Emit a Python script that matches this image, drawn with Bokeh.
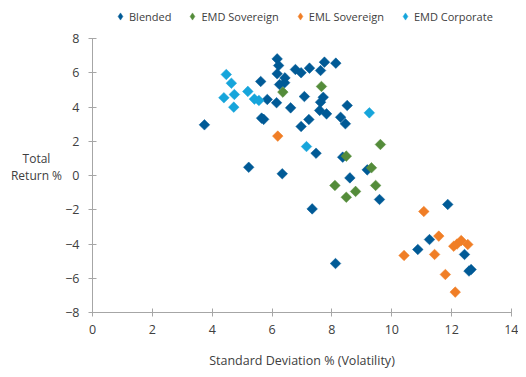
import math
from bokeh.plotting import figure
from bokeh.models import ColumnDataSource, Legend, LegendItem, Label, FixedTicker
from bokeh.embed import file_html
from bokeh.resources import INLINE

# ---- data ----
blended_x = [6.17, 6.22, 6.17, 6.43, 6.25, 6.42, 6.78, 6.97, 7.25, 7.75, 7.62, 8.13,
             5.62, 5.84, 6.15, 6.62, 7.08, 7.71, 7.62, 7.59, 7.82, 8.51, 8.29, 8.45,
             5.65, 5.72, 7.23, 6.97, 3.74, 7.47, 8.36, 9.18, 5.22, 6.34, 8.60, 9.59,
             7.34, 8.12, 11.87, 11.26, 10.87, 12.43, 12.65, 12.58]
blended_y = [6.81, 6.42, 5.94, 5.70, 5.31, 5.42, 6.19, 6.00, 6.27, 6.62, 6.13, 6.56,
             5.49, 4.44, 4.25, 3.95, 4.61, 4.57, 4.28, 3.80, 3.60, 4.09, 3.40, 3.02,
             3.35, 3.28, 3.27, 2.86, 2.96, 1.30, 1.07, 0.33, 0.48, 0.10, -0.14, -1.40,
             -1.95, -5.14, -1.69, -3.74, -4.32, -4.61, -5.49, -5.58]

emd_sov_x = [6.36, 7.65, 8.48, 9.62, 9.32, 8.10, 9.46, 8.79, 8.48]
emd_sov_y = [4.87, 5.20, 1.13, 1.81, 0.45, -0.58, -0.58, -0.93, -1.27]

eml_sov_x = [6.19, 11.07, 11.57, 10.41, 11.43, 12.07, 12.18, 12.32, 12.54, 11.79, 12.12]
eml_sov_y = [2.30, -2.10, -3.54, -4.67, -4.61, -4.13, -4.00, -3.80, -4.03, -5.78, -6.81]

emd_corp_x = [4.47, 4.64, 4.39, 4.74, 4.72, 5.19, 5.41, 5.56, 9.25, 7.15]
emd_corp_y = [5.90, 5.39, 4.54, 4.73, 3.99, 4.91, 4.46, 4.38, 3.66, 1.69]

series_names = ["Blended", "EMD Sovereign", "EML Sovereign", "EMD Corporate"]
x_ticks = [0, 2, 4, 6, 8, 10, 12, 14]
y_ticks = [-8, -6, -4, -2, 0, 2, 4, 6, 8]
y_title_lines = ["Total", "Return %"]

colors = ["#005A96", "#548C3A", "#F07E26", "#16A5DB"]
FONT = "Open Sans"
TXT = "#404040"
AX = "#A6A6A6"

# frame covers the whole canvas; axes sit at fixed data locations
W, H = 518, 369
L, R, T, B = 92, 7, 38, 57
xmin, xmax = x_ticks[0], x_ticks[-1]
ymin, ymax = y_ticks[0], y_ticks[-1]
xs_per_px = (xmax - xmin) / (W - L - R)
ys_per_px = (ymax - ymin) / (H - T - B)

p = figure(width=W, height=H,
           x_range=(xmin - L * xs_per_px, xmax + R * xs_per_px),
           y_range=(ymin - B * ys_per_px, ymax + T * ys_per_px),
           output_backend="svg", toolbar_location=None,
           min_border_left=0, min_border_right=0, min_border_top=0, min_border_bottom=0)
p.outline_line_color = None
p.xgrid.visible = False
p.ygrid.visible = False

for ax in (p.xaxis[0], p.yaxis[0]):
    ax.axis_line_color = AX
    ax.major_tick_line_color = AX
    ax.minor_tick_line_color = None
    ax.major_tick_in = 4
    ax.major_tick_out = 4
    ax.major_label_text_font = FONT
    ax.major_label_text_font_size = "12.5px"
    ax.major_label_text_color = TXT
    ax.axis_label_text_font = FONT
    ax.axis_label_text_font_style = "normal"
    ax.axis_label_text_color = TXT
p.xaxis.fixed_location = ymin
p.yaxis.fixed_location = xmin
p.xaxis.bounds = (xmin, xmax)
p.yaxis.bounds = (ymin, ymax)
p.xaxis.ticker = FixedTicker(ticks=x_ticks)
p.yaxis.ticker = FixedTicker(ticks=y_ticks)
p.xaxis.major_label_standoff = 8
p.yaxis.major_label_standoff = 9
p.xaxis.axis_label = "Standard Deviation % (Volatility)"
p.xaxis.axis_label_text_font_size = "12.5px"
p.xaxis.axis_label_standoff = 15

data = [(blended_x, blended_y), (emd_sov_x, emd_sov_y), (eml_sov_x, eml_sov_y), (emd_corp_x, emd_corp_y)]
items = []
for name, (xs, ys), c in zip(series_names, data, colors):
    src = ColumnDataSource(dict(x=xs, y=ys))
    p.scatter("x", "y", source=src, marker="square", size=7.5, angle=math.pi / 4,
              fill_color=c, line_color=c, line_width=0.5)
    # hidden twin renderer so the legend swatch is a diamond
    key = p.scatter("x", "y", source=src, marker="diamond", fill_color=c, line_color=c,
                    line_width=0.5, visible=False)
    items.append(LegendItem(label=name, renderers=[key]))

legend = Legend(items=items, orientation="horizontal", location=(111, 344),
                padding=0, spacing=12, margin=0, glyph_width=18, glyph_height=18,
                label_standoff=0, border_line_alpha=0, background_fill_alpha=0,
                inactive_fill_alpha=0, click_policy="none",
                label_text_font=FONT, label_text_font_size="11px", label_text_color=TXT)
p.add_layout(legend, "center")

# y-axis title, two horizontal lines left of the axis
lab_x = xmin - 56 * xs_per_px
for i, line in enumerate(y_title_lines):
    p.add_layout(Label(x=lab_x, y=(175 - 38 - 17 * (1 - i)) * -ys_per_px + ymax,
                       text=line, text_align="center",
                       text_baseline="middle", text_font=FONT, text_font_size="12px",
                       text_color=TXT))

open("out.html", "w").write(file_html(p, INLINE))
